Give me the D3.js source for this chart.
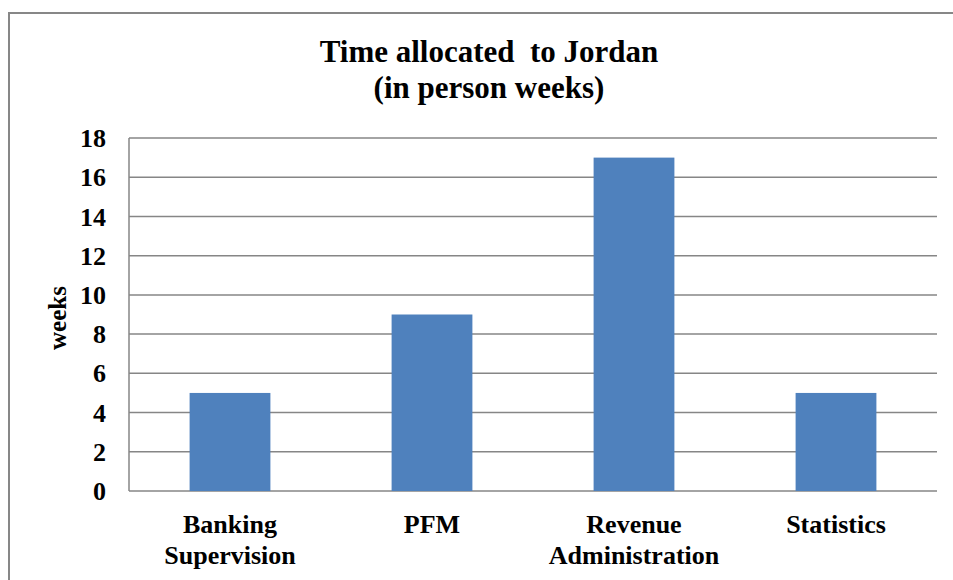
<!DOCTYPE html>
<html><head><meta charset="utf-8">
<script src="https://cdn.jsdelivr.net/npm/d3@7"></script>
<style>body{margin:0;background:#fff}svg{display:block}text{font-family:"Liberation Serif","Times New Roman",serif;font-weight:bold;fill:#000}</style>
</head><body>
<script>
const categories = [["Banking","Supervision"],["PFM"],["Revenue","Administration"],["Statistics"]];
const values = [5, 9, 17, 5];
const yTicks = [0,2,4,6,8,10,12,14,16,18];
const titleLines = ["Time allocated  to Jordan","(in person weeks)"];
const yLabel = "weeks";

const W = 953, H = 580;
const svg = d3.select("body").append("svg").attr("width", W).attr("height", H);
svg.append("rect").attr("x", 9).attr("y", 13).attr("width", 960).attr("height", 600)
  .attr("fill", "#fff").attr("stroke", "#878787").attr("stroke-width", 2);

const L = 129, R = 937, T = 138, B = 491;
const x = d3.scaleBand().domain(categories.map(c => c.join(" "))).range([L, R]).paddingInner(0.6).paddingOuter(0.3);
const y = d3.scaleLinear().domain([0, 18]).range([B, T]);

svg.append("g").selectAll("line").data(yTicks).join("line")
  .attr("x1", L).attr("x2", R).attr("y1", d => y(d)).attr("y2", d => y(d))
  .attr("stroke", "#868686").attr("stroke-width", 1.5);
svg.append("line").attr("x1", L).attr("x2", L).attr("y1", T).attr("y2", B).attr("stroke", "#868686").attr("stroke-width", 1.5);

svg.append("g").selectAll("rect").data(values).join("rect")
  .attr("x", (d, i) => x(categories[i].join(" "))).attr("width", x.bandwidth())
  .attr("y", d => y(d)).attr("height", d => y(0) - y(d)).attr("fill", "#4F81BD");

svg.append("g").selectAll("text").data(yTicks).join("text")
  .attr("x", 106).attr("y", d => y(d)).attr("dy", "0.35em").attr("text-anchor", "end")
  .style("font-size", "26px").text(d => d);

const xl = svg.append("g").selectAll("text").data(categories).join("text")
  .attr("text-anchor", "middle").style("font-size", "26px");
xl.each(function(c) {
  const cx = x(c.join(" ")) + x.bandwidth() / 2;
  d3.select(this).selectAll("tspan").data(c).join("tspan")
    .attr("x", cx).attr("y", (d, i) => 533 + i * 31).text(d => d);
});

svg.append("text").attr("transform", "translate(66,318) rotate(-90)").attr("text-anchor", "middle")
  .style("font-size", "25px").text(yLabel);

svg.append("g").selectAll("text").data(titleLines).join("text")
  .attr("x", 489).attr("y", (d, i) => 62 + i * 36).attr("text-anchor", "middle")
  .style("font-size", "31px").style("white-space", "pre").attr("xml:space", "preserve").text(d => d);
</script>
</body></html>
